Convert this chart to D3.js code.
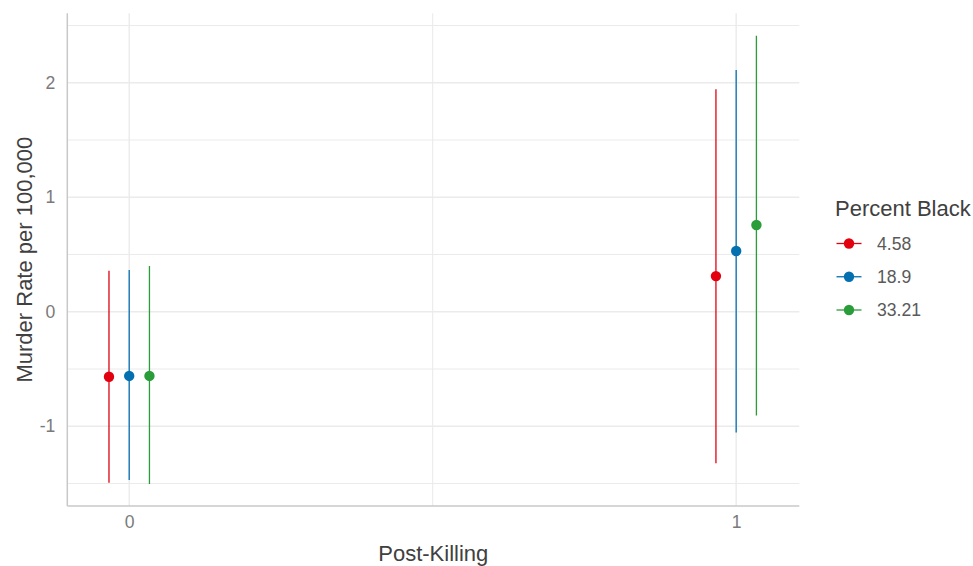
<!DOCTYPE html>
<html>
<head>
<meta charset="utf-8">
<script src="https://cdn.jsdelivr.net/npm/d3@7"></script>
<style>
  html, body { margin: 0; padding: 0; background: #fff; }
  svg { display: block; font-family: "Liberation Sans", Arial, sans-serif; }
</style>
</head>
<body>
<svg id="chart" width="973" height="566"></svg>
<script>
// Predicted murder rate with 95% intervals, by period and percent Black
const groups = ["4.58", "18.9", "33.21"];
const periods = [0, 1];
const estimates = {
  "4.58":  [-0.568, 0.311],
  "18.9":  [-0.561, 0.530],
  "33.21": [-0.561, 0.757]
};
const lowers = {
  "4.58":  [-1.493, -1.324],
  "18.9":  [-1.470, -1.056],
  "33.21": [-1.505, -0.907]
};
const uppers = {
  "4.58":  [0.358, 1.942],
  "18.9":  [0.364, 2.111],
  "33.21": [0.399, 2.410]
};
const colors = ["#E3000F", "#0570B0", "#2A9D3A"];
const yMajor = [-1, 0, 1, 2];
const yMinor = [-1.5, -0.5, 0.5, 1.5, 2.5];
const xMajor = [0, 1];
const xMinor = [0.5];
const dodge = 0.1;

const svg = d3.select("#chart");
const panel = { left: 67.3, right: 799.3, top: 13.3, bottom: 506 };

const x = d3.scaleLinear().domain([-0.102, 1.104]).range([panel.left, panel.right]);
const y = d3.scaleLinear().domain([-1.697, 2.606]).range([panel.bottom, panel.top]);
const color = d3.scaleOrdinal().domain(groups).range(colors);
const offset = d3.scalePoint().domain(groups).range([-dodge / 3, dodge / 3]);

const grid = svg.append("g").attr("stroke", "#EBEBEB").attr("fill", "none");
grid.selectAll(".ymin").data(yMinor).join("line")
  .attr("x1", panel.left).attr("x2", panel.right)
  .attr("y1", d => y(d)).attr("y2", d => y(d)).attr("stroke-width", 1.1);
grid.selectAll(".xmin").data(xMinor).join("line")
  .attr("y1", panel.top).attr("y2", panel.bottom)
  .attr("x1", d => x(d)).attr("x2", d => x(d)).attr("stroke-width", 1.1);
grid.selectAll(".ymaj").data(yMajor).join("line")
  .attr("x1", panel.left).attr("x2", panel.right)
  .attr("y1", d => y(d)).attr("y2", d => y(d)).attr("stroke-width", 1.4);
grid.selectAll(".xmaj").data(xMajor).join("line")
  .attr("y1", panel.top).attr("y2", panel.bottom)
  .attr("x1", d => x(d)).attr("x2", d => x(d)).attr("stroke-width", 1.4);

// Axes (plain hyphen for negative labels)
const plain = d => String(d);
const yAxis = svg.append("g")
  .attr("transform", `translate(${panel.left},0)`)
  .call(d3.axisLeft(y).tickValues(yMajor).tickSize(0).tickPadding(12).tickFormat(plain));
const xAxis = svg.append("g")
  .attr("transform", `translate(0,${panel.bottom})`)
  .call(d3.axisBottom(x).tickValues(xMajor).tickSize(0).tickPadding(10).tickFormat(plain));
[yAxis, xAxis].forEach(a => {
  a.select(".domain").attr("stroke", "#C8C8C8").attr("stroke-width", 1.5);
  a.selectAll("text").attr("fill", "#7A7A7A").attr("font-size", 17.6)
    .attr("font-family", "'Liberation Sans', Arial, sans-serif");
});
yAxis.select(".domain").attr("d", `M0,${panel.top}V${panel.bottom}`);
xAxis.select(".domain").attr("d", `M${panel.left},0H${panel.right}`);

// Error bars and points
const rows = [];
groups.forEach(g => periods.forEach((p, i) => rows.push({
  g, p, est: estimates[g][i], lo: lowers[g][i], hi: uppers[g][i]
})));
const marks = svg.append("g");
marks.selectAll("line.ci").data(rows).join("line")
  .attr("class", "ci")
  .attr("x1", d => x(d.p + offset(d.g))).attr("x2", d => x(d.p + offset(d.g)))
  .attr("y1", d => y(d.lo)).attr("y2", d => y(d.hi))
  .attr("stroke", d => color(d.g)).attr("stroke-width", 1.3);
marks.selectAll("circle").data(rows).join("circle")
  .attr("cx", d => x(d.p + offset(d.g))).attr("cy", d => y(d.est))
  .attr("r", 5.2).attr("fill", d => color(d.g));

// Axis titles
svg.append("text")
  .attr("x", (panel.left + panel.right) / 2).attr("y", 561)
  .attr("text-anchor", "middle").attr("font-size", 22).attr("fill", "#404040")
  .text("Post-Killing");
svg.append("text")
  .attr("transform", `translate(32,${(panel.top + panel.bottom) / 2}) rotate(-90)`)
  .attr("text-anchor", "middle").attr("font-size", 22).attr("fill", "#404040")
  .text("Murder Rate per 100,000");

// Legend
const legend = svg.append("g").attr("transform", "translate(835,0)");
legend.append("text").attr("x", 0).attr("y", 216)
  .attr("font-size", 22).attr("fill", "#404040").text("Percent Black");
const keyY = d3.scalePoint().domain(groups).range([243.5, 310]);
const keys = legend.selectAll("g.key").data(groups).join("g")
  .attr("class", "key").attr("transform", d => `translate(0,${keyY(d)})`);
keys.append("line").attr("x1", 1.5).attr("x2", 26.5)
  .attr("stroke", d => color(d)).attr("stroke-width", 1.3);
keys.append("circle").attr("cx", 14).attr("r", 5.2).attr("fill", d => color(d));
keys.append("text").attr("x", 42).attr("dy", "0.35em")
  .attr("font-size", 17.6).attr("fill", "#5A5A5A").text(d => d);
</script>
</body>
</html>
